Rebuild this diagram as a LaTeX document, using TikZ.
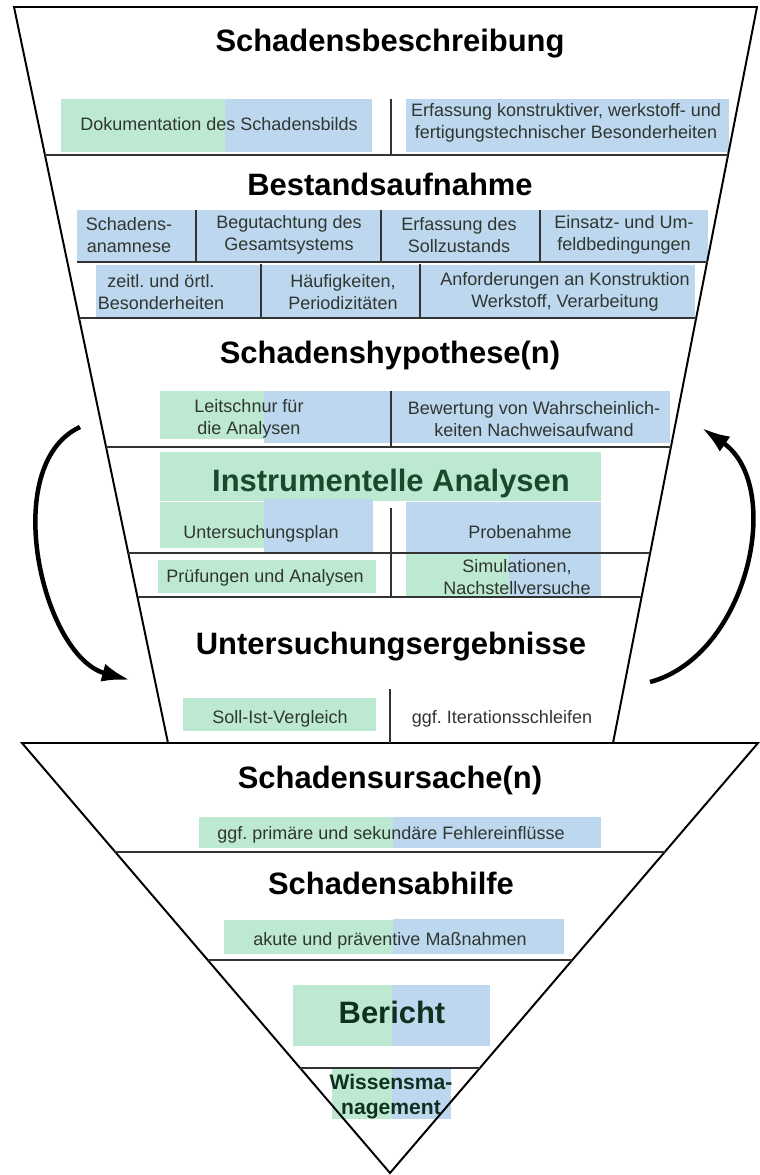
\documentclass[tikz,border=0pt]{standalone}
\usepackage{fontspec}
\setmainfont{Liberation Sans}
\usepackage{xcolor}
\usepackage{tikz}
\usetikzlibrary{arrows.meta, positioning, calc}
\definecolor{mintfill}{HTML}{BDE9D2}
\definecolor{skyfill}{HTML}{BDD7EE}
\definecolor{itemgray}{HTML}{303630}
\definecolor{deepgreen}{HTML}{174A2A}
\definecolor{deepink}{HTML}{10301F}
\frenchspacing
\tikzset{
  funneledge/.style={draw=black, line width=1.4pt, line join=miter},
  stageline/.style={draw=black!80, line width=1.6pt},
  splitline/.style={draw=black!80, line width=1.5pt},
  mintbox/.style={fill=mintfill},
  skybox/.style={fill=skyfill},
  stagetitle/.style={
    font=\fontsize{22}{26}\selectfont\bfseries, inner sep=0pt,
    text height=15.8pt, text depth=0pt
  },
  keytitle/.style={stagetitle, text=deepgreen},
  itemtext/.style={
    font=\fontsize{12.8}{15.5}\selectfont, text=itemgray,
    align=center, inner sep=0pt
  },
  itemline/.style={itemtext, text height=9.2pt, text depth=0pt},
  loopline/.style={-{Latex[length=7mm, width=4.6mm]}, line width=3.2pt},
}

\begin{document}
\begin{tikzpicture}[x=0.025cm, y=0.025cm]
  \useasboundingbox (0,0) rectangle (760,-1175);

  % === Colour fields ===
  \path[mintbox] (61,-99) rectangle (225,-152);
  \path[skybox] (225,-99) rectangle (372,-152);
  \path[skybox] (406,-99) rectangle (729,-152);
  \path[skybox] (77,-210) rectangle (708,-262);
  \path[skybox] (96,-265) rectangle (695,-317);
  \path[mintbox] (160,-391) rectangle (264,-439);
  \path[skybox] (264,-391) rectangle (390,-443);
  \path[skybox] (392,-391) rectangle (670,-443);
  \path[mintbox] (160,-452) rectangle (601,-501);
  \path[mintbox] (160,-502) rectangle (264,-548);
  \path[skybox] (264,-499) rectangle (373,-552);
  \path[skybox] (406,-502) rectangle (601,-552);
  \path[mintbox] (158,-560) rectangle (376,-593);
  \path[mintbox] (406,-553) rectangle (509,-597);
  \path[skybox] (509,-553) rectangle (601,-597);
  \path[mintbox] (183,-698) rectangle (376,-731);
  \path[mintbox] (199,-817) rectangle (393,-848);
  \path[skybox] (393,-817) rectangle (601,-848);
  \path[mintbox] (224,-920) rectangle (393,-954);
  \path[skybox] (393,-919) rectangle (564,-954);
  \path[mintbox] (293,-985) rectangle (392,-1046);
  \path[skybox] (392,-985) rectangle (490,-1046);
  \path[mintbox] (332,-1068) rectangle (392,-1119);
  \path[skybox] (392,-1068) rectangle (451,-1119);

  % === Funnel and triangle ===
  \draw[funneledge] (14,-7) -- (757,-7) -- (613,-743) -- (168,-743) -- cycle;
  \draw[funneledge] (22,-743) -- (758,-743) -- (390,-1173) -- cycle;

  % === Stage borders ===
  \draw[stageline] (45,-155) -- (728,-155);
  \draw[stageline] (77,-262) -- (708,-262);
  \draw[stageline] (79,-318) -- (696,-318);
  \draw[stageline] (106,-447) -- (671,-447);
  \draw[stageline] (128,-553) -- (650,-553);
  \draw[stageline] (138,-597) -- (641,-597);
  \draw[stageline] (115,-852) -- (665,-852);
  \draw[stageline] (208,-960) -- (572,-960);
  \draw[stageline] (300,-1068) -- (480,-1068);

  % === Splits ===
  \draw[splitline] (391,-99) -- (391,-155);
  \foreach \sx in {196, 381, 540}
    \draw[splitline] (\sx,-210) -- (\sx,-262);
  \foreach \sx in {261, 420}
    \draw[splitline] (\sx,-264) -- (\sx,-318);
  \draw[splitline] (391,-391) -- (391,-447);
  \draw[splitline] (391,-508) -- (391,-597);
  \draw[splitline] (390,-689) -- (390,-743);

  % === Schadensbeschreibung ===
  \node[stagetitle] (beschr) at (390,-40) {Schadensbeschreibung};
  \node[itemline] (doku) at (219,-124) {Dokumentation des Schadensbilds};
  \node[itemtext] (konstr) at (566,-123)
    {Erfassung konstruktiver, werkstoff- und\\fertigungstechnischer Besonderheiten};

  % === Bestandsaufnahme ===
  \node[stagetitle] (bestand) at (390,-184) {Bestandsaufnahme};
  \node[itemtext] (anamn) at (129,-235) {Schadens-\\anamnese};
  \node[itemtext] (gutacht) at (289,-235) {Begutachtung des\\Gesamtsystems};
  \node[itemtext] (sollz) at (459,-235) {Erfassung des\\Sollzustands};
  \node[itemtext] (einsatz) at (624,-235) {Einsatz- und Um-\\feldbedingungen};
  \node[itemtext] (zeitl) at (161,-292) {zeitl. und örtl.\\Besonderheiten};
  \node[itemtext] (haeuf) at (343,-292) {Häufigkeiten,\\Periodizitäten};
  \node[itemtext] (anford) at (565,-292) {Anforderungen an Konstruktion\\Werkstoff, Verarbeitung};

  % === Schadenshypothese(n) ===
  \node[stagetitle] (hypo) at (390,-352) {Schadenshypothese(n)};
  \node[itemtext] (leit) at (249,-419) {Leitschnur für\\die Analysen};
  \node[itemtext] (bewert) at (534,-419) {Bewertung von Wahrscheinlich-\\keiten Nachweisaufwand};

  % === Instrumentelle Analysen ===
  \node[keytitle] (instr) at (391,-480) {Instrumentelle Analysen};
  \node[itemline] (uplan) at (261,-532) {Untersuchungsplan};
  \node[itemline] (probe) at (520,-532) {Probenahme};
  \node[itemline] (pruef) at (265,-576) {Prüfungen und Analysen};
  \node[itemtext] (simul) at (517,-577) {Simulationen,\\Nachstellversuche};

  % === Untersuchungsergebnisse ===
  \node[stagetitle] (ergeb) at (391,-643) {Untersuchungsergebnisse};
  \node[itemline] (sollist) at (280,-717) {Soll-Ist-Vergleich};
  \node[itemline] (iter) at (502,-717) {ggf. Iterationsschleifen};

  % === Lower stages ===
  \node[stagetitle] (ursache) at (390,-777) {Schadensursache(n)};
  \node[itemline] (fehler) at (391,-833) {ggf. primäre und sekundäre Fehlereinflüsse};
  \node[stagetitle] (abhilfe) at (391,-883) {Schadensabhilfe};
  \node[itemline] (massn) at (390,-939) {akute und präventive Maßnahmen};
  \node[stagetitle, text=deepink] (bericht) at (392,-1012) {Bericht};
  \node[font=\fontsize{15}{17.8}\selectfont\bfseries, text=deepink, align=center, inner sep=0pt]
    (wissen) at (391,-1097) {Wissensma-\\nagement};

  % === Iteration loops ===
  \coordinate (loopLa) at (80,-427);
  \coordinate (loopLb) at (130,-680);
  \coordinate (loopRa) at (650,-682);
  \coordinate (loopRb) at (702,-428);
  \draw[loopline] (loopLa) to[out=205, in=165, looseness=0.9] (loopLb);
  \draw[loopline] (loopRa) to[out=15, in=-35] (loopRb);

\end{tikzpicture}
\end{document}
